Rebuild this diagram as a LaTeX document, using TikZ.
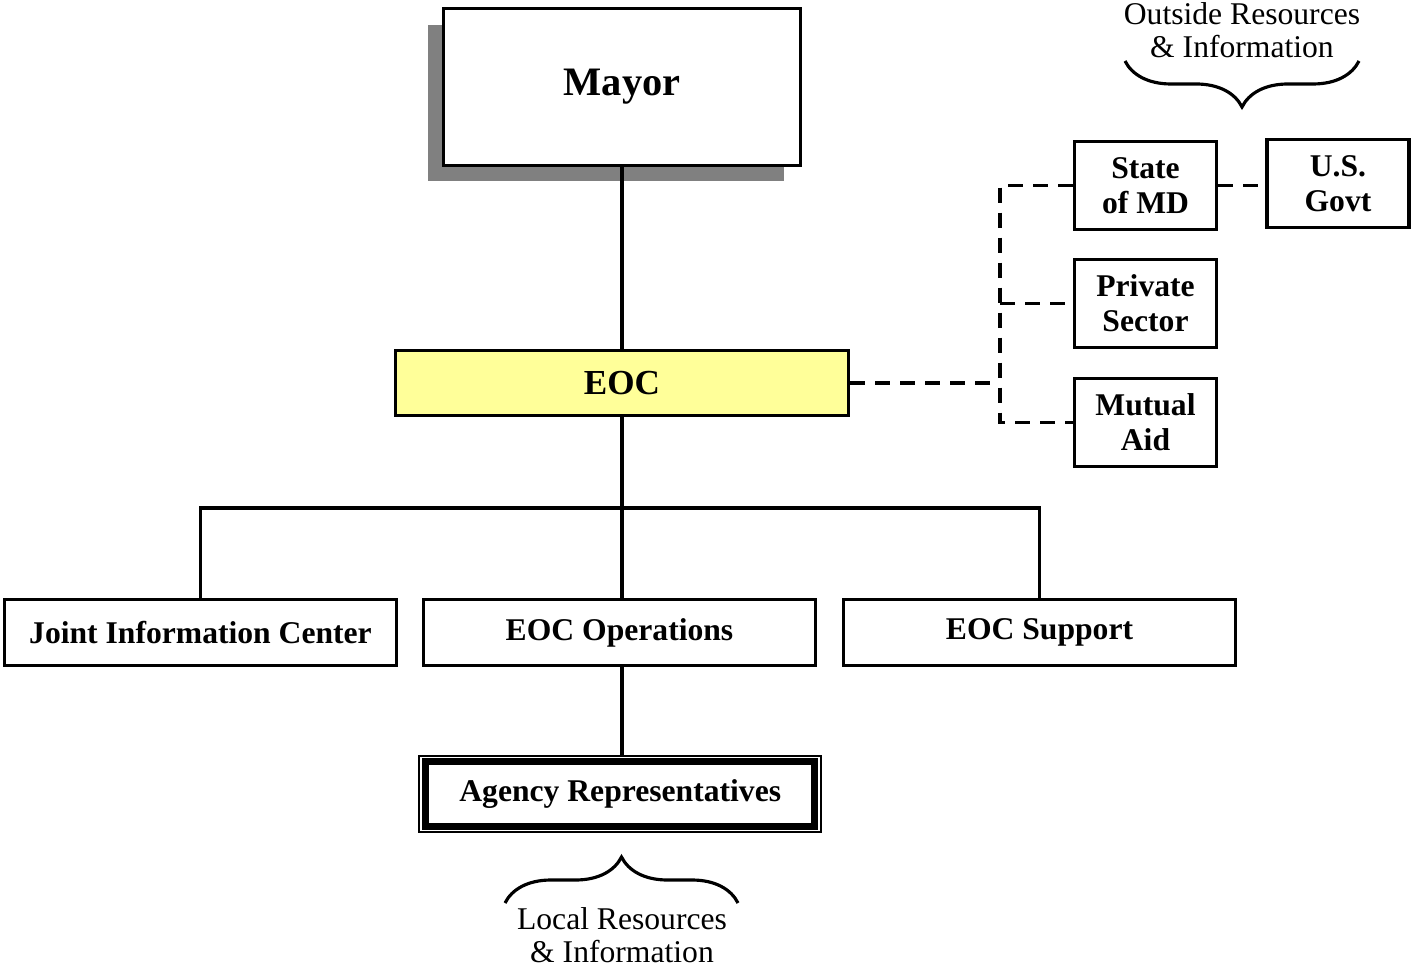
\documentclass[tikz,border=0pt]{standalone}
\usepackage{fontspec}
\setmainfont{Liberation Serif}
\usetikzlibrary{calc,shadows,decorations.pathreplacing}
\definecolor{eocyellow}{HTML}{FFFF99}
\definecolor{shadowgray}{HTML}{808080}
\tikzset{
    unit/.style={draw, line width=2pt, inner sep=0pt, align=center,
        font=\fontsize{18}{20}\selectfont\bfseries},
    wideunit/.style={unit, minimum width=7.84cm, minimum height=1.32cm},
    smallunit/.style={unit, minimum width=2.84cm, minimum height=1.76cm},
    orgline/.style={line width=2pt},
    outlink/.style={line width=2pt, dash pattern=on 0.3cm off 0.2cm},
    curly/.style={line width=1.8pt, decorate, decoration={brace, amplitude=0.92cm}},
    note/.style={inner sep=0pt, align=center, font=\fontsize{18}{19}\selectfont}
}

\begin{document}
\begin{tikzpicture}[x=0.02cm, y=-0.02cm]
    \useasboundingbox (0,0) rectangle (1412,972);
    % City side
    \node[unit, minimum width=7.14cm, minimum height=3.14cm, fill=white,
        font=\fontsize{23}{26}\selectfont\bfseries,
        drop shadow={shadow xshift=-0.32cm, shadow yshift=-0.32cm, fill=shadowgray, opacity=1}]
        (mayor) at (622,87) {Mayor};
    \node[unit, fill=eocyellow, minimum width=9.06cm, minimum height=1.30cm,
        font=\fontsize{20}{24}\selectfont\bfseries] (eoc) at (622,383) {EOC};
    \node[wideunit] (jic) at (200.5,632.5) {Joint Information Center};
    \node[wideunit] (ops) at (619.5,632.5) {EOC Operations};
    \node[wideunit] (support) at (1039.5,632.5) {EOC Support};
    \node[unit, line width=1pt, minimum width=8.04cm, minimum height=1.52cm]
        (agency) at (620.25,794) {Agency Representatives};
    \draw[line width=4pt] ($(agency.north west)+(7.5,6)$) rectangle ($(agency.south east)+(-7.5,-6)$);

    % Outside side
    \node[smallunit] (state) at (1145.5,185.5) {State\\of MD};
    \node[smallunit] (private) at (1145.5,303.5) {Private\\Sector};
    \node[smallunit] (mutual) at (1145.5,422.5) {Mutual\\Aid};
    \node[smallunit] (usgovt) at (1338,183.5) {U.S.\\Govt};

    % Solid links
    \coordinate (bus) at (622,508);
    \draw[orgline] (mayor) -- (eoc);
    \draw[orgline] (eoc) -- (bus);
    \draw[orgline] (jic.north) -- (jic.north |- bus) -- (support.north |- bus) -- (support.north);
    \draw[orgline] (bus) -- (bus |- ops.north);
    \draw[orgline] (ops.south -| bus) -- (agency.north -| bus);

    % Dashed links
    \coordinate (hub) at (1000,383);
    \draw[outlink] (eoc) -- (hub);
    \draw[outlink] (state.west) -- (state.west -| hub) -- (mutual.west -| hub) -- (mutual.west);
    \draw[outlink] (private.west -| hub) -- (private.west);
    \draw[outlink] (state.east) -- (state.east -| usgovt.west);

    % Braces and notes
    \draw[curly] (1359,61) -- (1125,61);
    \node[note, anchor=north] (outside) at (1242,2) {Outside Resources\\\& Information};
    \draw[curly] (505,903) -- (738,903);
    \node[note, anchor=north] (local) at (622,907) {Local Resources\\\& Information};
\end{tikzpicture}
\end{document}
